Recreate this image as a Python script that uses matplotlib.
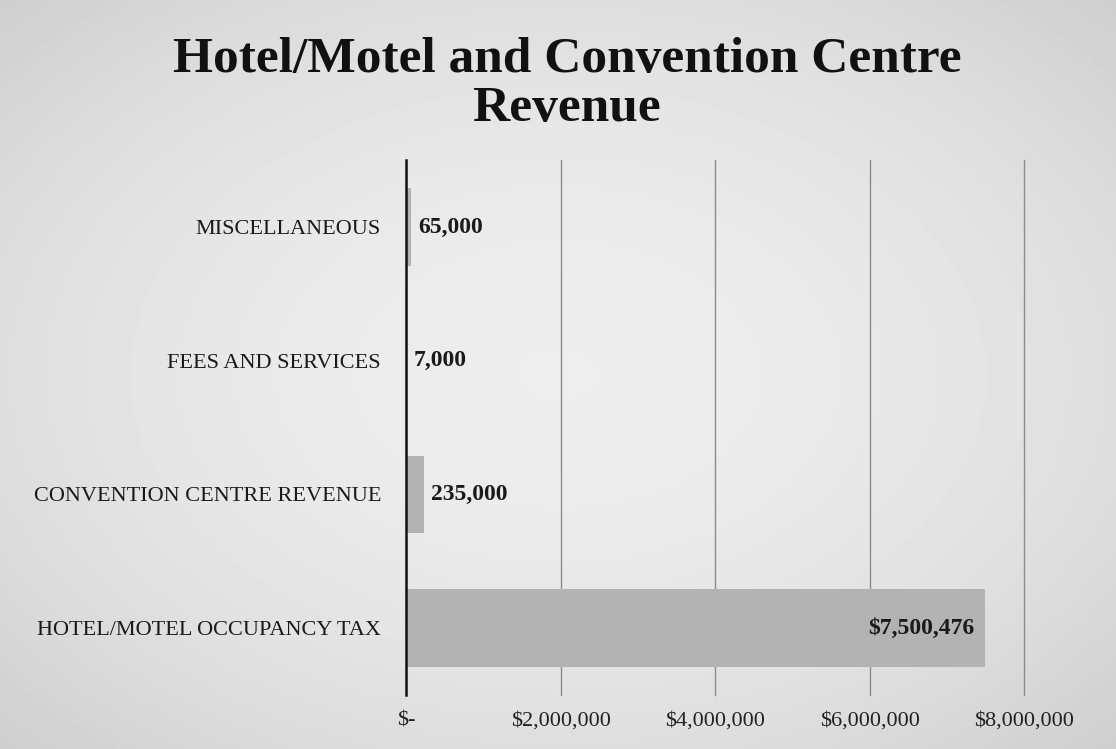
import matplotlib.pyplot as plt
import numpy as np

# donnees
categories = ['HOTEL/MOTEL OCCUPANCY TAX', 'CONVENTION CENTRE REVENUE',
              'FEES AND SERVICES', 'MISCELLANEOUS']
values = [7500476, 235000, 7000, 65000]
value_labels = ['$7,500,476', '235,000', '7,000', '65,000']
xticks = [0, 2000000, 4000000, 6000000, 8000000]
xtick_labels = ['$-', '$2,000,000', '$4,000,000', '$6,000,000', '$8,000,000']

plt.rcParams['font.family'] = ['Liberation Serif', 'DejaVu Serif']

fig = plt.figure(figsize=(11.16, 7.49), dpi=100, facecolor='#e1e1e1')

# fond en degrade leger (plus clair au centre)
bg = fig.add_axes([0, 0, 1, 1], zorder=0)
gx, gy = np.meshgrid(np.linspace(-1, 1, 300), np.linspace(-1, 1, 200))
shade = 0.93 - 0.06 * (gx**2 + gy**2)
bg.imshow(shade, cmap='gray', vmin=0, vmax=1, aspect='auto', extent=[0, 1, 0, 1])
bg.axis('off')

ax = fig.add_axes([0.3638, 0.0721, 0.5538, 0.7139], zorder=1)
ax.set_facecolor('none')

ypos = range(len(categories))
ax.barh(ypos, values, height=0.58, color='#b3b3b3', zorder=2)

# etiquettes des valeurs
for i, v in enumerate(values):
    if v > 1000000:
        ax.annotate(value_labels[i], (v, i), xytext=(-8, 0), textcoords='offset points',
                    ha='right', va='center', fontsize=17, fontweight='bold',
                    color='#1a1a1a', zorder=3)
    else:
        ax.annotate(value_labels[i], (v, i), xytext=(5, 0), textcoords='offset points',
                    ha='left', va='center', fontsize=17, fontweight='bold',
                    color='#1a1a1a', zorder=3)

ax.set_xlim(0, 8000000)
ax.set_ylim(-0.5, 3.5)
ax.set_xticks(xticks)
ax.set_xticklabels(xtick_labels, fontsize=16, color='#222222')
ax.set_yticks(list(ypos))
ax.set_yticklabels(categories, fontsize=16, color='#1a1a1a')
ax.tick_params(axis='x', length=0, pad=12)
ax.tick_params(axis='y', length=0, pad=18)

for t in xticks[1:]:
    ax.axvline(t, color='#8c8c8c', linewidth=1.0, zorder=1, clip_on=False)
for s in ['top', 'right', 'bottom']:
    ax.spines[s].set_visible(False)
ax.spines['left'].set_color('#111111')
ax.spines['left'].set_linewidth(1.8)
ax.spines['left'].set_zorder(4)

fig.text(0.508, 0.887, 'Hotel/Motel and Convention Centre\nRevenue', ha='center',
         va='center', fontsize=37, fontweight='bold', color='#111111',
         linespacing=1.1)

fig.savefig('out.png', dpi=100, facecolor=fig.get_facecolor())
